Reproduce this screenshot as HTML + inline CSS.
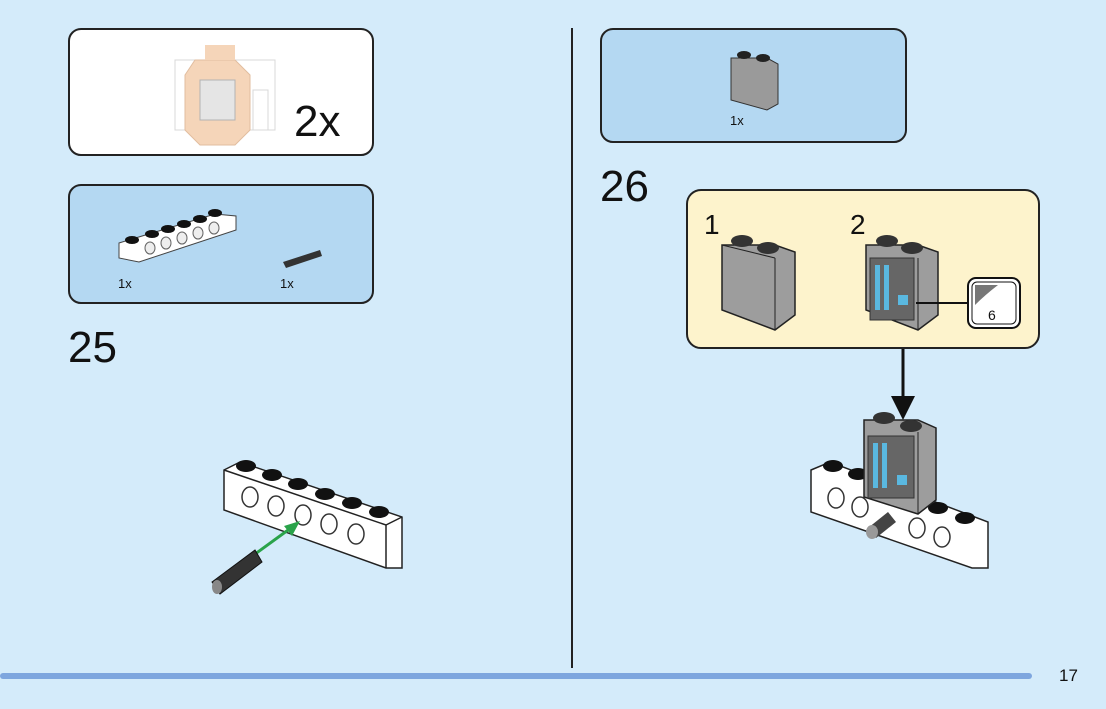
<!DOCTYPE html>
<html><head><meta charset="utf-8"><style>
body{margin:0;background:#d4ebfa;}
svg{display:block;font-family:"Liberation Sans",sans-serif;}
</style></head><body>
<svg width="1106" height="709" viewBox="0 0 1106 709">
<rect width="1106" height="709" fill="#d4ebfa"/>
<!-- left panels -->
<rect x="69" y="29" width="304" height="126" rx="12" fill="#fff" stroke="#222" stroke-width="2"/>
<g opacity="0.75">
<rect x="175" y="60" width="100" height="70" fill="#fff" stroke="#ccc"/>
<polygon points="195,60 235,60 250,75 250,130 235,145 200,145 185,130 185,75" fill="#f2c8a2" stroke="#d8a880"/>
<rect x="200" y="80" width="35" height="40" fill="#ddd" stroke="#999"/>
<rect x="205" y="45" width="30" height="15" fill="#f2c8a2"/>
<rect x="253" y="90" width="15" height="40" fill="#fff" stroke="#ccc"/>
</g>
<text x="294" y="136" font-size="44" fill="#111">2x</text>
<rect x="69" y="185" width="304" height="118" rx="12" fill="#b4d8f2" stroke="#222" stroke-width="2"/>
<g>
<polygon points="119,243 215,214 236,216 236,230 139,262 119,258" fill="#fff" stroke="#444"/>
<g fill="#111">
<ellipse cx="132" cy="240" rx="7" ry="4"/><ellipse cx="152" cy="234" rx="7" ry="4"/><ellipse cx="168" cy="229" rx="7" ry="4"/><ellipse cx="184" cy="224" rx="7" ry="4"/><ellipse cx="200" cy="219" rx="7" ry="4"/><ellipse cx="215" cy="213" rx="7" ry="4"/></g>
<g fill="#eee" stroke="#666"><ellipse cx="150" cy="248" rx="5" ry="6"/><ellipse cx="166" cy="243" rx="5" ry="6"/><ellipse cx="182" cy="238" rx="5" ry="6"/><ellipse cx="198" cy="233" rx="5" ry="6"/><ellipse cx="214" cy="228" rx="5" ry="6"/></g>
</g>
<polygon points="283,262 320,250 322,256 286,268" fill="#333"/>
<text x="118" y="288" font-size="13" fill="#111">1x</text>
<text x="280" y="288" font-size="13" fill="#111">1x</text>
<text x="68" y="362" font-size="44" fill="#111">25</text>
<!-- step 25 beam -->
<polygon points="224,470 240,462 402,517 402,568 386,568 224,510" fill="#fff" stroke="#222" stroke-width="1.5"/>
<polyline points="224,470 386,525 402,517" fill="none" stroke="#222" stroke-width="1.5"/>
<line x1="386" y1="525" x2="386" y2="568" stroke="#222" stroke-width="1.5"/>
<g fill="#111">
<ellipse cx="246" cy="466" rx="10" ry="6"/><ellipse cx="272" cy="475" rx="10" ry="6"/><ellipse cx="298" cy="484" rx="10" ry="6"/><ellipse cx="325" cy="494" rx="10" ry="6"/><ellipse cx="352" cy="503" rx="10" ry="6"/><ellipse cx="379" cy="512" rx="10" ry="6"/></g>
<g fill="#fff" stroke="#333" stroke-width="1.5">
<ellipse cx="250" cy="497" rx="8" ry="10"/><ellipse cx="276" cy="506" rx="8" ry="10"/><ellipse cx="303" cy="515" rx="8" ry="10"/><ellipse cx="329" cy="524" rx="8" ry="10"/><ellipse cx="356" cy="534" rx="8" ry="10"/></g>
<line x1="240" y1="565" x2="295" y2="525" stroke="#2aa34a" stroke-width="3"/>
<polygon points="300,521 284,526 292,536" fill="#2aa34a"/>
<polygon points="212,582 255,550 262,562 220,594" fill="#333" stroke="#111"/>
<ellipse cx="217" cy="587" rx="5" ry="7" fill="#888"/>
<!-- divider -->
<line x1="572" y1="28" x2="572" y2="668" stroke="#222" stroke-width="2"/>
<!-- right top panel -->
<rect x="601" y="29" width="305" height="113" rx="12" fill="#b4d8f2" stroke="#222" stroke-width="2"/>
<polygon points="731,58 767,58 778,64 778,104 767,110 731,100" fill="#9a9a9a" stroke="#333"/>
<ellipse cx="744" cy="55" rx="7" ry="4" fill="#222"/><ellipse cx="763" cy="58" rx="7" ry="4" fill="#222"/>
<text x="730" y="125" font-size="13" fill="#111">1x</text>
<text x="600" y="201" font-size="44" fill="#111">26</text>
<rect x="687" y="190" width="352" height="158" rx="14" fill="#fdf3cc" stroke="#222" stroke-width="2"/>
<text x="704" y="234" font-size="28" fill="#111">1</text>
<text x="850" y="234" font-size="28" fill="#111">2</text>
<polygon points="722,245 775,245 795,252 795,315 775,330 722,310" fill="#9d9d9d" stroke="#222" stroke-width="1.5"/>
<line x1="775" y1="258" x2="775" y2="330" stroke="#222"/><line x1="722" y1="245" x2="775" y2="258" stroke="#222"/>
<ellipse cx="742" cy="241" rx="11" ry="6" fill="#333"/><ellipse cx="768" cy="248" rx="11" ry="6" fill="#333"/>
<polygon points="866,245 918,245 938,252 938,315 918,330 866,310" fill="#9d9d9d" stroke="#222" stroke-width="1.5"/>
<line x1="918" y1="258" x2="918" y2="330" stroke="#222"/>
<rect x="870" y="258" width="44" height="62" fill="#666" stroke="#333"/>
<rect x="875" y="265" width="5" height="45" fill="#5ab8e0"/><rect x="884" y="265" width="5" height="45" fill="#5ab8e0"/>
<rect x="898" y="295" width="10" height="10" fill="#5ab8e0"/>
<ellipse cx="887" cy="241" rx="11" ry="6" fill="#333"/><ellipse cx="912" cy="248" rx="11" ry="6" fill="#333"/>
<line x1="916" y1="303" x2="968" y2="303" stroke="#111" stroke-width="2"/>
<rect x="968" y="278" width="52" height="50" rx="8" fill="#fff" stroke="#111" stroke-width="2"/>
<rect x="972" y="282" width="44" height="42" rx="5" fill="#fff" stroke="#111" stroke-width="1"/>
<path d="M975,285 L998,285 Q985,295 975,305 Z" fill="#777"/>
<text x="988" y="320" font-size="14" fill="#111">6</text>
<line x1="903" y1="349" x2="903" y2="398" stroke="#111" stroke-width="3"/>
<polygon points="891,396 915,396 903,420" fill="#111"/>
<!-- final assembly -->
<polygon points="811,470 830,462 988,522 988,568 972,568 811,512" fill="#fff" stroke="#222" stroke-width="1.5"/>
<g fill="#111"><ellipse cx="833" cy="466" rx="10" ry="6"/><ellipse cx="858" cy="474" rx="10" ry="6"/><ellipse cx="938" cy="508" rx="10" ry="6"/><ellipse cx="965" cy="518" rx="10" ry="6"/></g>
<g fill="#fff" stroke="#333" stroke-width="1.5"><ellipse cx="836" cy="498" rx="8" ry="10"/><ellipse cx="860" cy="507" rx="8" ry="10"/><ellipse cx="917" cy="528" rx="8" ry="10"/><ellipse cx="942" cy="537" rx="8" ry="10"/></g>
<polygon points="864,420 918,420 936,428 936,500 918,514 864,497" fill="#9d9d9d" stroke="#222" stroke-width="1.5"/>
<line x1="918" y1="432" x2="918" y2="514" stroke="#222"/>
<rect x="868" y="436" width="46" height="62" fill="#666" stroke="#333"/>
<rect x="873" y="443" width="5" height="45" fill="#5ab8e0"/><rect x="882" y="443" width="5" height="45" fill="#5ab8e0"/>
<rect x="897" y="475" width="10" height="10" fill="#5ab8e0"/>
<ellipse cx="884" cy="418" rx="11" ry="6" fill="#333"/><ellipse cx="911" cy="426" rx="11" ry="6" fill="#333"/>
<polygon points="868,528 888,512 896,522 876,538" fill="#444"/>
<ellipse cx="872" cy="532" rx="6" ry="7" fill="#999"/>
<!-- bottom bar -->
<rect x="0" y="673" width="1032" height="6" rx="3" fill="#7ea6de"/>
<text x="1059" y="681" font-size="17" fill="#111">17</text>
</svg>
</body></html>
